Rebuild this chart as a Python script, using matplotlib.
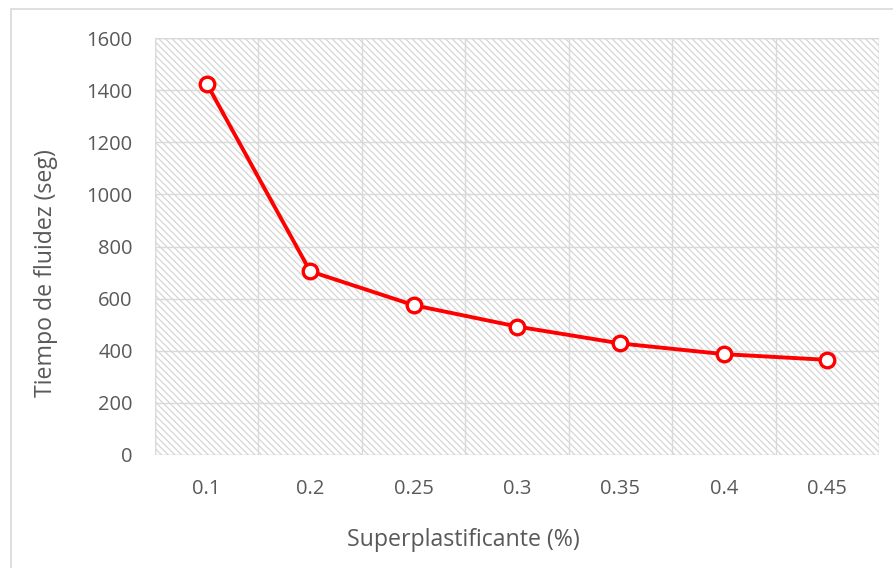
import matplotlib
matplotlib.use('Agg')
import matplotlib.pyplot as plt
from matplotlib.patches import Rectangle

# superplasticizer dosage vs. flow time
dosis = ['0.1', '0.2', '0.25', '0.3', '0.35', '0.4', '0.45']
tiempo = [1425, 705, 575, 493, 428, 387, 365]
yticks = [0, 200, 400, 600, 800, 1000, 1200, 1400, 1600]

plt.rcParams['font.family'] = ['Open Sans', 'DejaVu Sans']
plt.rcParams['hatch.linewidth'] = 0.9
txt = '#595959'
grid = '#d9d9d9'

W, H = 893, 568
fig = plt.figure(figsize=(W / 100, H / 100), dpi=100)
ax = fig.add_axes([155 / W, 113 / H, 724 / W, 417 / H])

# chart border
fig.patches.append(Rectangle((11 / W, -0.1), 1.2, 1 - 9 / H + 0.1,
                             transform=fig.transFigure, fill=False,
                             edgecolor=grid, linewidth=1.2))

# hatched plot area
ax.add_patch(Rectangle((0, 0), 1, 1, transform=ax.transAxes, facecolor='white',
                       edgecolor='#d6d6d6', hatch='\\\\\\\\\\', linewidth=1.0, zorder=0))

x = list(range(len(dosis)))
for v in yticks:
    ax.axhline(v, color=grid, lw=1.0, zorder=1)
for i in range(len(dosis) + 1):
    ax.axvline(i - 0.5, color=grid, lw=1.0, zorder=1)

ax.plot(x, tiempo, color='#ff0000', lw=2.8, marker='o', markersize=10.5,
        markerfacecolor='white', markeredgecolor='#ff0000', markeredgewidth=2.4,
        zorder=3)

ax.set_xlim(-0.5, len(dosis) - 0.5)
ax.set_ylim(0, 1600)
ax.set_xticks(x)
ax.set_xticklabels(dosis)
ax.set_yticks(yticks)
for s in ax.spines.values():
    s.set_visible(False)
ax.tick_params(length=0, labelsize=14.5, labelcolor=txt)
ax.tick_params(axis='x', pad=17)
ax.tick_params(axis='y', pad=16)

# axis titles placed in figure pixels
fig.text(463 / W, 1 - 540 / H, 'Superplastificante (%)', fontsize=16.7,
         color=txt, ha='center', va='center')
fig.text(46 / W, 1 - 273 / H, 'Tiempo de fluidez (seg)', fontsize=16.7,
         color=txt, ha='center', va='center', rotation=90)

fig.savefig('out.png', dpi=100)
